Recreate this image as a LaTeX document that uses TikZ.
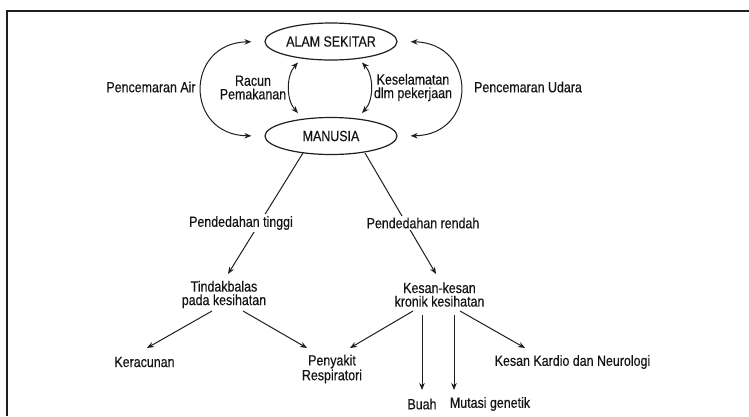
\documentclass[tikz,border=0pt]{standalone}
\usepackage{fontspec}
\setmainfont{Liberation Sans}[FakeStretch=0.84, FakeBold=0.35]
\usetikzlibrary{arrows.meta,shapes.geometric,calc}

\begin{document}
\begin{tikzpicture}[x=1pt,y=-1pt,
    every node/.style={font=\fontsize{14.8}{13.5}\selectfont, text=black!92, inner sep=1pt},
    oval/.style={ellipse, draw=black!88, line width=1.2pt, minimum width=132pt, minimum height=37pt, inner sep=0pt},
    txt/.style={align=center},
    lbl/.style={align=center, fill=white, inner sep=2pt},
    tip/.style={-{Stealth[length=7pt,width=5.5pt]}},
    both/.style={{Stealth[length=7pt,width=5.5pt]}-{Stealth[length=7pt,width=5.5pt]}},
    link/.style={line width=1pt, draw=black!88}]

  \useasboundingbox (0,0) rectangle (749,416);
  \fill[white] (0,0) rectangle (749,416);

  % frame
  \draw[line width=2.4pt, black!88] (749,11) -- (7,11) -- (7,416);

  % the two main ellipses
  \node[oval] (alam) at (331,41.5) {ALAM SEKITAR};
  \node[oval] (manusia) at (331,136) {MANUSIA};

  % labels of the exchanges
  \node[txt] (air) at (151,87) {Pencemaran Air};
  \node[txt] (racun) at (253,87.5) {Racun\\Pemakanan};
  \node[txt] (kes) at (413,87.5) {Keselamatan\\dlm pekerjaan};
  \node[txt] (udara) at (528,87) {Pencemaran Udara};

  % exchanges between surroundings and people
  \draw[link, both, shorten <=13pt, shorten >=13pt]
    (alam.west) .. controls +(-80,1.5) and +(-80,-1) .. (manusia.west);
  \draw[link, both, shorten <=13pt, shorten >=13pt]
    (alam.east) .. controls +(80,1.5) and +(80,-1) .. (manusia.east);
  \draw[link, both]
    ($(alam.center)+(-33,21)$) .. controls +(-12,13) and +(-12,-13) .. ($(manusia.center)+(-33,-23)$);
  \draw[link, both]
    ($(alam.center)+(31,21)$) .. controls +(12,13) and +(12,-13) .. ($(manusia.center)+(31,-23)$);

  % exposure branches
  \node[txt] (tindak) at (224,294.5) {Tindakbalas\\pada kesihatan};
  \node[txt] (kronik) at (439.5,294.5) {Kesan-kesan\\kronik kesihatan};

  \draw[link, tip] ($(manusia.center)+(-28,17)$) -- ($(tindak.center)+(4,-20.5)$);
  \draw[link, tip] ($(manusia.center)+(34,17)$) -- ($(kronik.center)+(-3.5,-20.5)$);

  \node[lbl] (tinggi) at (241,223) {Pendedahan tinggi};
  \node[lbl] (rendah) at (423,223) {Pendedahan rendah};

  % health outcomes
  \node[txt] (keracunan) at (144.5,362) {Keracunan};
  \node[txt] (penyakit) at (332,369) {Penyakit\\Respiratori};
  \node[txt] (kardio) at (572.5,362) {Kesan Kardio dan Neurologi};
  \node[txt] (buah) at (422,404) {Buah};
  \node[txt] (mutasi) at (490,404) {Mutasi genetik};

  \draw[link, tip] ($(tindak.center)+(-12,16.5)$) -- ($(keracunan.center)+(2.5,-14)$);
  \draw[link, tip] ($(tindak.center)+(19,16.5)$) -- ($(penyakit.center)+(-25,-21)$);
  \draw[link, tip] ($(kronik.center)+(-26.5,16.5)$) -- ($(penyakit.center)+(18,-21)$);
  \draw[link, tip] ($(kronik.center)+(-17.5,20.5)$) -- ($(buah.center)+(0,-14)$);
  \draw[link, tip] ($(kronik.center)+(14.5,20.5)$) -- ($(mutasi.center)+(-36,-14)$);
  \draw[link, tip] ($(kronik.center)+(20.5,16.5)$) -- ($(kardio.center)+(-47.5,-14)$);
\end{tikzpicture}
\end{document}
